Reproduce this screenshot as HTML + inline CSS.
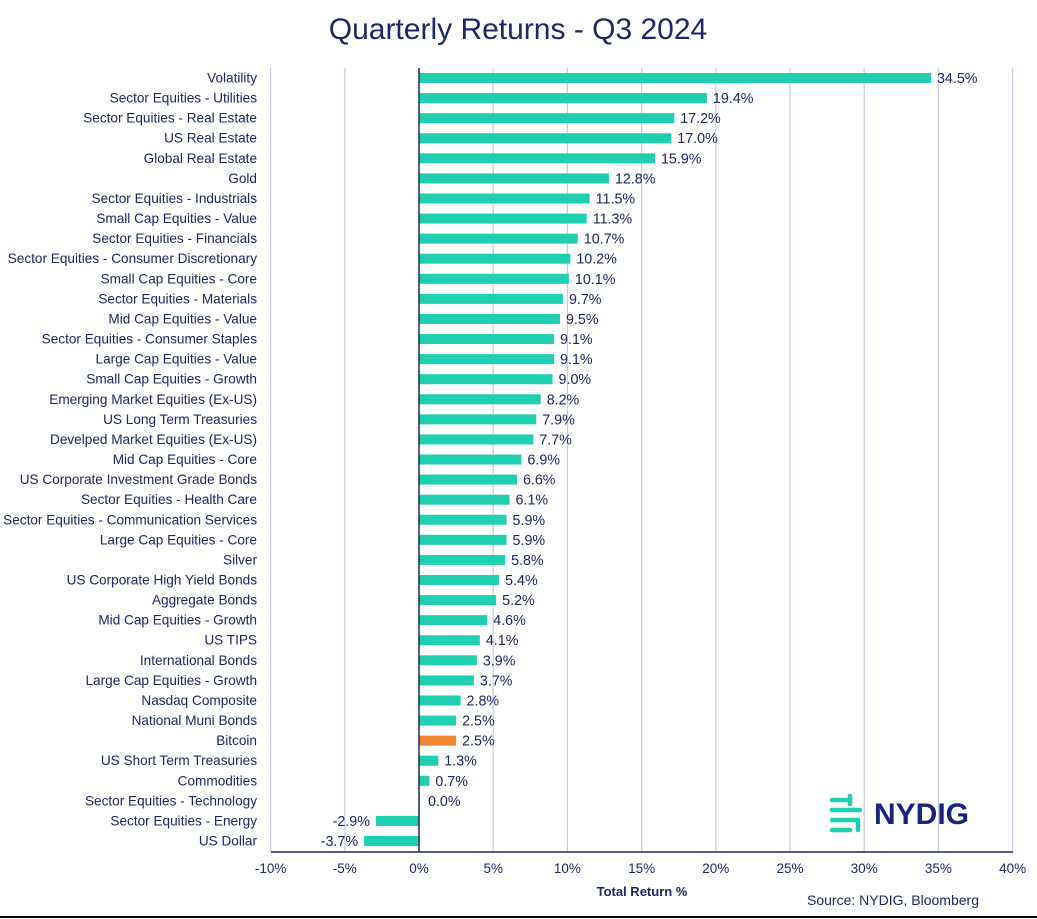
<!DOCTYPE html><html><head><meta charset="utf-8"><style>body{margin:0;background:#fff}svg{display:block}text{font-family:"Liberation Sans",sans-serif;fill:#1c2668}</style></head><body>
<svg width="1037" height="919" xmlns="http://www.w3.org/2000/svg" id="s">
<text x="518" y="39" font-size="30" text-anchor="middle">Quarterly Returns - Q3 2024</text>
<g id="g"></g>
<line x1="419" y1="68" x2="419" y2="852" stroke="#1c2668" stroke-width="1.5"/>
<line x1="271" y1="852" x2="1013" y2="852" stroke="#1c2668" stroke-width="1.5"/>
<text x="642" y="896" font-size="13" font-weight="bold" text-anchor="middle">Total Return %</text>
<text x="893" y="905" font-size="14" text-anchor="middle">Source: NYDIG, Bloomberg</text>
<g fill="none" stroke="#1fcfb0" stroke-width="4.5" stroke-linecap="round">
<path d="M832 800 h18 M832 810 h28 M832 820 h26 M832 830 h18 M850 796 v8 M858 820 v10"/>
</g>
<text x="874" y="824" font-size="30" font-weight="bold" style="fill:#1a237e">NYDIG</text>
<line x1="0" y1="917" x2="1037" y2="917" stroke="#000" stroke-width="2"/>
</svg>
<script>
const d=[["Volatility",34.5],["Sector Equities - Utilities",19.4],["Sector Equities - Real Estate",17.2],["US Real Estate",17.0],["Global Real Estate",15.9],["Gold",12.8],["Sector Equities - Industrials",11.5],["Small Cap Equities - Value",11.3],["Sector Equities - Financials",10.7],["Sector Equities - Consumer Discretionary",10.2],["Small Cap Equities - Core",10.1],["Sector Equities - Materials",9.7],["Mid Cap Equities - Value",9.5],["Sector Equities - Consumer Staples",9.1],["Large Cap Equities - Value",9.1],["Small Cap Equities - Growth",9.0],["Emerging Market Equities (Ex-US)",8.2],["US Long Term Treasuries",7.9],["Develped Market Equities (Ex-US)",7.7],["Mid Cap Equities - Core",6.9],["US Corporate Investment Grade Bonds",6.6],["Sector Equities - Health Care",6.1],["Sector Equities - Communication Services",5.9],["Large Cap Equities - Core",5.9],["Silver",5.8],["US Corporate High Yield Bonds",5.4],["Aggregate Bonds",5.2],["Mid Cap Equities - Growth",4.6],["US TIPS",4.1],["International Bonds",3.9],["Large Cap Equities - Growth",3.7],["Nasdaq Composite",2.8],["National Muni Bonds",2.5],["Bitcoin",2.5],["US Short Term Treasuries",1.3],["Commodities",0.7],["Sector Equities - Technology",0.0],["Sector Equities - Energy",-2.9],["US Dollar",-3.7]];
const X=v=>419+v*14.84;let h="";
for(let t=-10;t<=40;t+=5){const x=X(t);if(t!=0)h+=`<line x1="${x}" y1="68" x2="${x}" y2="852" stroke="#c9cbea" stroke-width="1.2"/>`;h+=`<text x="${x}" y="873" font-size="13.5" text-anchor="middle">${t}%</text>`;}
d.forEach((r,i)=>{const y=78+i*20.08,v=r[1],x=X(v);
h+=`<text x="257" y="${y+4.5}" textLength="" font-size="13.6" text-anchor="end">${r[0]}</text>`;
if(v!=0)h+=`<rect x="${Math.min(x,419)}" y="${y-5}" width="${Math.abs(x-419)}" height="10" fill="${r[0]=='Bitcoin'?'#f0862e':'#1fcfb0'}"/>`;
const lbl=v.toFixed(1)+'%';
if(v>=0)h+=`<text x="${x+(v==0?9:6)}" y="${y+5}" font-size="14.3">${lbl}</text>`;else h+=`<text x="${x-6}" y="${y+5}" font-size="14.3" text-anchor="end">${lbl}</text>`;});
document.getElementById('g').innerHTML=h.replace(/ textLength=""/g,'');
</script></body></html>
